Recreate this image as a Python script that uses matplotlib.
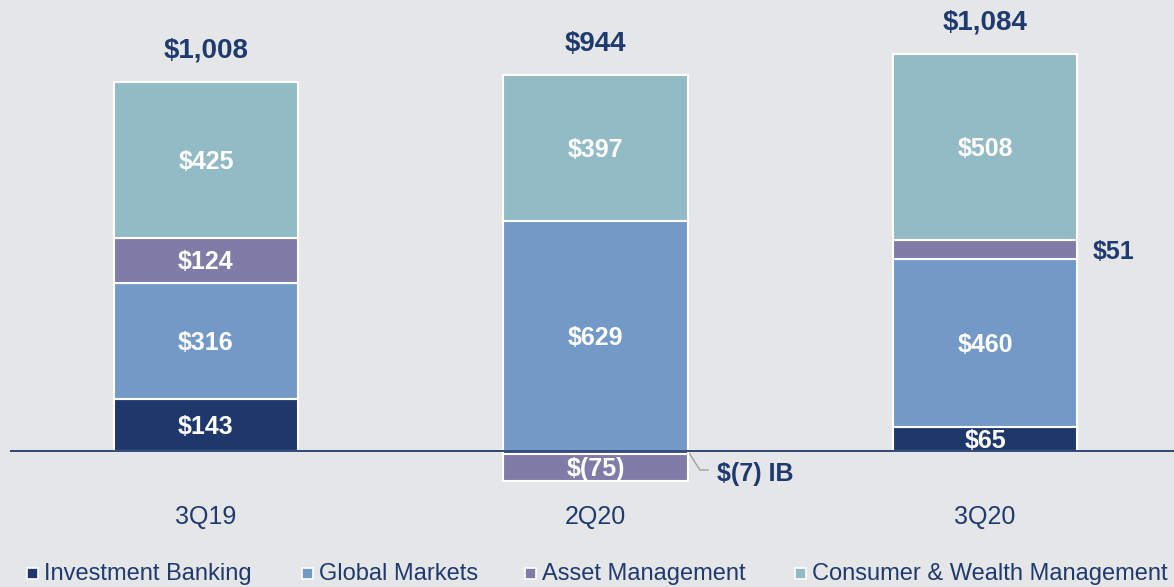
import matplotlib
matplotlib.use("Agg")
import matplotlib.pyplot as plt
from matplotlib.patches import Rectangle
import numpy as np

plt.rcParams["font.family"] = ["Liberation Sans", "DejaVu Sans"]

quarters = ["3Q19", "2Q20", "3Q20"]
segments = ["Investment Banking", "Global Markets", "Asset Management",
            "Consumer & Wealth Management"]
seg_short = ["IB", "GM", "AM", "CWM"]
investment_banking = [143, -7, 65]
global_markets = [316, 629, 460]
asset_management = [124, -75, 51]
consumer_wealth = [425, 397, 508]

BG = "#E5E6E8"
NAVY = "#1F3A6E"
COLORS = ["#1F386B", "#739AC6", "#7F7DA7", "#93BBC5"]
BAR_W = 0.474
NUDGE = -6  # small downward shift so labels sit like the original


def fmt(v):
    return f"${v:,}" if v >= 0 else f"$({-v:,})"


series = [investment_banking, global_markets, asset_management, consumer_wealth]

fig = plt.figure(figsize=(11.74, 5.87), dpi=100, facecolor=BG)
ax = fig.add_axes([10 / 1174, 97 / 587, 1164 / 1174, 470 / 587])
ax.set_facecolor(BG)

x = np.arange(len(quarters))
pos_base = np.zeros(len(quarters))
neg_base = np.zeros(len(quarters))

for k, vals in enumerate(series):
    vals = np.array(vals, dtype=float)
    bottoms = np.where(vals >= 0, pos_base, neg_base)
    ax.bar(x, vals, BAR_W, bottom=bottoms, color=COLORS[k],
           edgecolor="white", linewidth=1.5, zorder=2)
    for i, v in enumerate(vals):
        mid = bottoms[i] + v / 2 + NUDGE
        if abs(v) >= 60:
            ax.text(x[i], mid, fmt(int(v)), ha="center", va="center",
                    color="white", fontsize=18, fontweight="bold", zorder=3)
        elif v >= 0:
            ax.text(x[i] + BAR_W / 2 + 0.04, mid, fmt(int(v)), ha="left",
                    va="center", color=NAVY, fontsize=18, fontweight="bold")
        else:
            x0 = x[i] + BAR_W / 2
            ax.plot([x0, x0 + 0.031, x0 + 0.052], [0, -52, -52],
                    color="#A0A0A0", lw=1, zorder=1)
            ax.text(x0 + 0.075, -58 + NUDGE, f"{fmt(int(v))} {seg_short[k]}",
                    ha="left", va="center", color=NAVY, fontsize=18,
                    fontweight="bold")
    pos_base = pos_base + np.where(vals >= 0, vals, 0)
    neg_base = neg_base + np.where(vals < 0, vals, 0)

totals = np.sum(series, axis=0)
for i, t in enumerate(totals):
    ax.text(x[i], pos_base[i] + 86, fmt(int(t)), ha="center", va="center",
            color=NAVY, fontsize=20, fontweight="bold")

ax.axhline(0, color=NAVY, lw=1.3, zorder=4)

ax.set_xlim(-0.503, 2.485)
ax.set_ylim(-106.5, 1177)
ax.set_xticks(x)
ax.set_xticklabels(quarters, fontsize=18, color=NAVY)
ax.tick_params(axis="x", length=0, pad=11)
ax.set_yticks([])
for s in ax.spines.values():
    s.set_visible(False)

# legend drawn by hand
leg_x = [27, 302, 525, 795]
for k, name in enumerate(segments):
    fig.patches.append(Rectangle((leg_x[k] / 1174, (587 - 579) / 587),
                                 11 / 1174, 11 / 587, transform=fig.transFigure,
                                 facecolor=COLORS[k], edgecolor="white",
                                 linewidth=1.2))
    fig.text((leg_x[k] + 17) / 1174, (587 - 574) / 587, name, ha="left",
             va="center", color=NAVY, fontsize=17)

fig.savefig("out.png", dpi=100, facecolor=BG)
